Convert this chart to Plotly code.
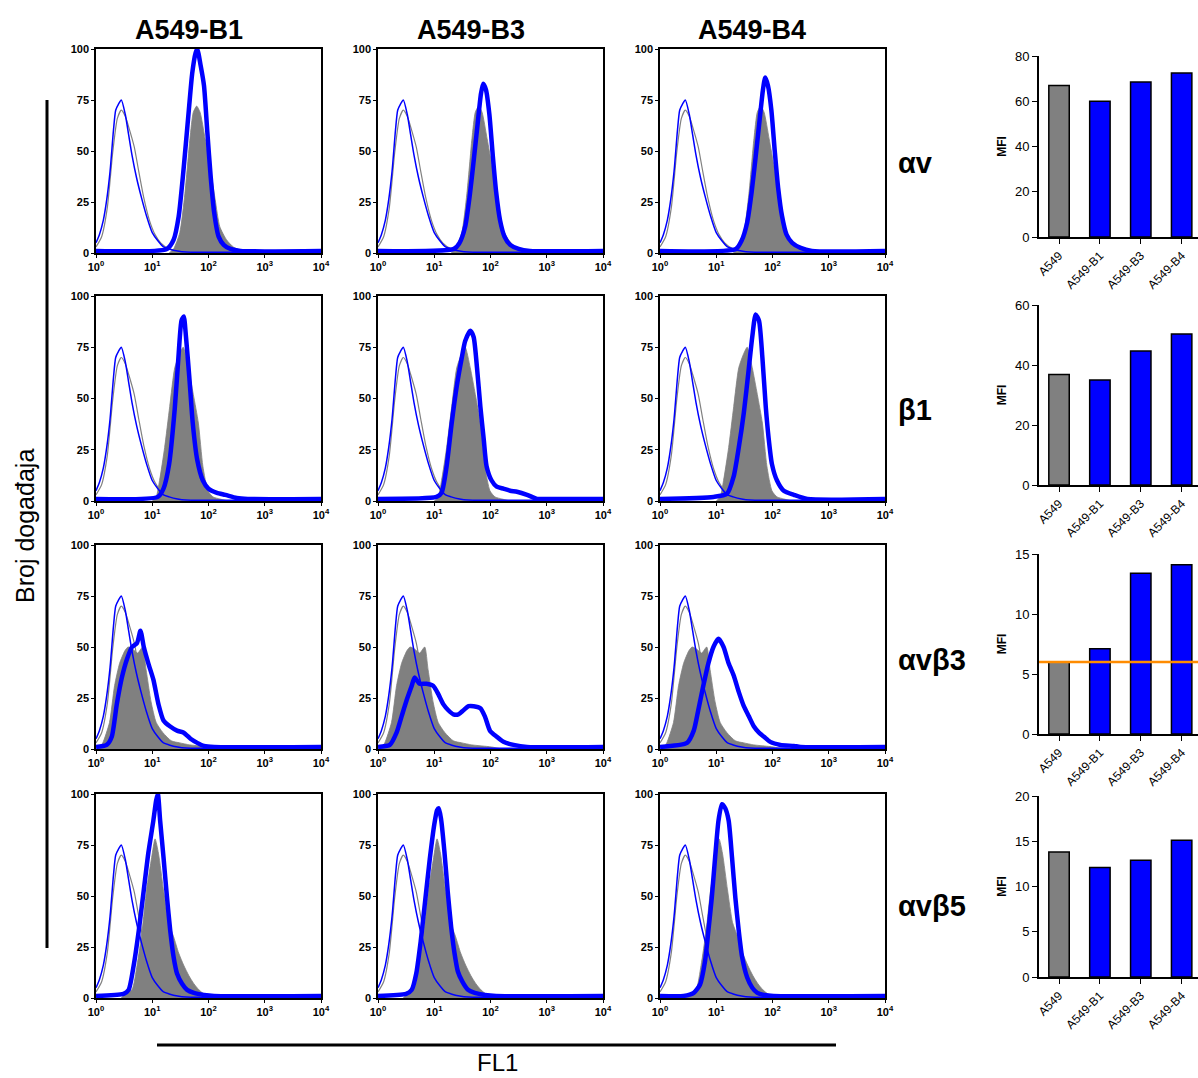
import plotly.graph_objects as go

W, H = 1198, 1078
FONT = "Liberation Sans, Arial, sans-serif"

# ---------------- data ----------------
col_titles = ["A549-B1", "A549-B3", "A549-B4"]
row_labels = ["αv", "β1", "αvβ3", "αvβ5"]

hist_tickvals = [1, 10, 100, 1000, 10000]
hist_ticktext = ["10<sup>0</sup>", "10<sup>1</sup>", "10<sup>2</sup>", "10<sup>3</sup>", "10<sup>4</sup>"]
hist_yticks = [0, 25, 50, 75, 100]

# isotype controls (log10 FL1 position, % of max)
ctrl_blue_d = [0.0, 0.06, 0.13, 0.19, 0.25, 0.31, 0.35, 0.40, 0.45, 0.52, 0.58, 0.64, 0.72, 0.80, 0.90, 1.00, 1.10, 1.20, 1.30, 1.45, 1.60, 4.0]
ctrl_blue_y = [5, 9, 16, 26, 40, 60, 70, 73, 75, 68, 58, 48, 37, 28, 18, 10, 6, 3, 2, 1, 0.5, 0.5]
ctrl_gray_d = [0.0, 0.10, 0.20, 0.30, 0.38, 0.45, 0.52, 0.60, 0.68, 0.76, 0.85, 0.95, 1.05, 1.15, 1.30, 1.50, 1.70]
ctrl_gray_y = [3, 8, 22, 50, 66, 70, 67, 60, 52, 40, 27, 16, 9, 5, 2, 1, 0.5]

# parental A549 (gray filled) per marker row
gray_d = [
    [1.30, 1.38, 1.49, 1.58, 1.67, 1.73, 1.79, 1.85, 1.94, 2.03, 2.12, 2.20, 2.32, 2.44, 2.59, 2.75],
    [1.00, 1.07, 1.13, 1.22, 1.31, 1.40, 1.49, 1.55, 1.64, 1.73, 1.82, 1.90, 1.99, 2.08, 2.20, 2.35],
    [0.05, 0.12, 0.24, 0.33, 0.42, 0.51, 0.57, 0.65, 0.74, 0.83, 0.89, 0.98, 1.07, 1.19, 1.34, 1.49, 1.67, 1.85, 2.02, 2.20],
    [0.45, 0.52, 0.64, 0.73, 0.82, 0.90, 0.99, 1.05, 1.11, 1.20, 1.29, 1.38, 1.47, 1.56, 1.65, 1.74, 1.83, 1.92, 2.04, 2.20],
]
gray_y = [
    [0, 2, 10, 29, 56, 69, 72, 69, 56, 42, 26, 13, 6.5, 3, 1, 0],
    [0, 2, 10, 26, 46, 65, 72, 75, 65, 52, 38, 17, 5, 2, 1, 0],
    [0, 3, 13, 31, 42, 48, 50, 49, 47, 50, 39, 23, 13, 8, 4, 3, 2, 1.5, 1, 0],
    [0, 2, 4, 16, 33, 53, 69, 78, 71, 53, 37, 30, 22, 16, 11, 7, 4, 2, 1, 0],
]

# transduced clones (thick blue), [row][col]
blue_d = [
    [
        [0, 1.26, 1.38, 1.47, 1.56, 1.65, 1.71, 1.77, 1.80, 1.86, 1.92, 1.98, 2.04, 2.10, 2.18, 2.27, 2.39, 2.57, 4.0],
        [0, 1.35, 1.45, 1.55, 1.63, 1.70, 1.77, 1.83, 1.87, 1.92, 1.98, 2.04, 2.10, 2.17, 2.25, 2.35, 2.50, 2.70, 4.0],
        [0, 1.35, 1.45, 1.55, 1.63, 1.70, 1.77, 1.83, 1.87, 1.92, 1.98, 2.04, 2.10, 2.17, 2.25, 2.35, 2.50, 2.70, 4.0],
    ],
    [
        [0, 1.10, 1.20, 1.30, 1.40, 1.47, 1.52, 1.56, 1.60, 1.66, 1.72, 1.80, 1.90, 2.00, 2.15, 2.30, 2.50, 2.70, 4.0],
        [0, 1.04, 1.13, 1.22, 1.31, 1.40, 1.49, 1.55, 1.64, 1.70, 1.76, 1.82, 1.88, 1.93, 2.02, 2.11, 2.23, 2.35, 2.47, 2.65, 2.83, 2.95, 4.0],
        [0, 0.95, 1.19, 1.31, 1.40, 1.49, 1.58, 1.64, 1.70, 1.76, 1.82, 1.88, 1.93, 1.99, 2.08, 2.20, 2.38, 2.62, 4.0],
    ],
    [
        [0, 0.19, 0.28, 0.37, 0.46, 0.55, 0.64, 0.73, 0.79, 0.85, 0.93, 1.02, 1.11, 1.20, 1.32, 1.44, 1.56, 1.68, 1.80, 1.92, 2.10, 4.0],
        [0, 0.21, 0.33, 0.42, 0.51, 0.60, 0.65, 0.74, 0.86, 0.98, 1.07, 1.16, 1.25, 1.34, 1.43, 1.52, 1.61, 1.70, 1.82, 1.90, 1.99, 2.11, 2.23, 2.41, 2.65, 4.0],
        [0, 0.48, 0.60, 0.68, 0.77, 0.86, 0.95, 1.04, 1.13, 1.22, 1.31, 1.40, 1.49, 1.58, 1.67, 1.76, 1.85, 1.96, 2.14, 2.38, 2.50, 4.0],
    ],
    [
        [0, 0.49, 0.58, 0.67, 0.76, 0.85, 0.93, 1.02, 1.07, 1.10, 1.14, 1.20, 1.26, 1.32, 1.38, 1.44, 1.53, 1.62, 1.74, 1.92, 2.10, 4.0],
        [0, 0.50, 0.60, 0.68, 0.76, 0.84, 0.92, 1.00, 1.05, 1.08, 1.12, 1.18, 1.24, 1.30, 1.36, 1.42, 1.50, 1.60, 1.72, 1.90, 2.10, 4.0],
        [0, 0.42, 0.60, 0.71, 0.80, 0.86, 0.92, 0.98, 1.04, 1.10, 1.16, 1.22, 1.28, 1.34, 1.40, 1.46, 1.55, 1.64, 1.73, 1.85, 2.02, 4.0],
    ],
]
blue_y = [
    [
        [1, 2, 6.5, 18, 42, 70, 88, 98, 100, 92, 82, 59, 37, 20, 8, 4, 2, 1, 1],
        [1, 2, 5, 13, 28, 45, 63, 78, 83, 80, 68, 48, 30, 16, 8, 4, 2, 1, 1],
        [1, 2, 6, 15, 30, 47, 65, 80, 86, 82, 70, 50, 32, 18, 9, 5, 2.5, 1, 1],
    ],
    [
        [1, 2, 6, 18, 45, 72, 88, 90, 80, 60, 38, 20, 10, 6, 4, 3, 1.5, 1, 1],
        [1, 2, 4, 17, 38, 56, 70, 78, 83, 80, 65, 46, 30, 17, 10, 7, 6, 5, 4.5, 3, 1, 1, 1],
        [1, 2, 3.5, 12, 26, 43, 65, 80, 91, 88, 70, 46, 31, 18, 10, 5, 3, 1, 1],
    ],
    [
        [1, 2, 6, 22, 35, 44, 50, 52, 58, 50, 42, 34, 22, 14, 11, 9, 8, 5, 3, 1.5, 1, 1],
        [1, 2, 8, 16, 24, 31, 35, 32, 32, 31, 27, 22, 19, 17, 17, 19, 21, 21, 20, 16, 9, 6, 3.5, 2, 1, 1],
        [1, 3, 9, 19, 31, 42, 50, 54, 50, 42, 36, 28, 21, 16, 11, 8, 6, 3.5, 2, 1.5, 1, 1],
    ],
    [
        [1, 2, 4, 16, 33, 53, 71, 87, 97, 100, 87, 69, 50, 33, 20, 12, 7, 4, 2.5, 1.5, 1, 1],
        [1, 2, 4, 12, 28, 48, 68, 85, 92, 93, 88, 72, 52, 35, 22, 13, 8, 4, 2.5, 1.5, 1, 1],
        [1, 1, 2.5, 6.5, 18, 33, 49, 69, 87, 95, 93, 87, 69, 49, 33, 20, 10, 5, 2.5, 1.5, 1, 1],
    ],
]

bar_categories = ["A549", "A549-B1", "A549-B3", "A549-B4"]
mfi_av = [67.0, 60.0, 68.5, 72.5]
mfi_b1 = [36.8, 35.0, 44.7, 50.3]
mfi_avb3 = [6.0, 7.1, 13.4, 14.1]
mfi_avb5 = [13.8, 12.1, 12.9, 15.1]
mfi_rows = [mfi_av, mfi_b1, mfi_avb3, mfi_avb5]
avb3_threshold = 6.0
bar_ymax = [80, 60, 15, 20]
bar_dtick = [20, 20, 5, 5]

# ---------------- layout geometry (pixels) ----------------
col_px = [(96, 321), (378, 603), (660, 885)]
row_px = [(49, 253), (296, 501), (545, 749), (794, 998)]
bar_x_px = (1039, 1198)
bar_row_px = [(56, 237), (305, 485), (554, 734), (796, 977)]


def dx(a, b):
    return [a / W, b / W]


def dy(top, bottom):
    return [1 - bottom / H, 1 - top / H]


BLUE = "#0000ff"
GRAY = "#808080"

fig = go.Figure()
layout = {}

for r in range(4):
    for c in range(3):
        k = r * 3 + c + 1
        xa, ya = f"x{k}", f"y{k}"
        fig.add_trace(go.Scatter(
            x=[10 ** d for d in gray_d[r]], y=gray_y[r], xaxis=xa, yaxis=ya,
            mode="lines", line=dict(color=GRAY, width=0.8, shape="spline", smoothing=0.6),
            fill="tozeroy", fillcolor=GRAY, showlegend=False, hoverinfo="skip"))
        fig.add_trace(go.Scatter(
            x=[10 ** d for d in ctrl_gray_d], y=ctrl_gray_y, xaxis=xa, yaxis=ya,
            mode="lines", line=dict(color=GRAY, width=1.2, shape="spline", smoothing=0.6),
            showlegend=False, hoverinfo="skip"))
        fig.add_trace(go.Scatter(
            x=[10 ** d for d in ctrl_blue_d], y=ctrl_blue_y, xaxis=xa, yaxis=ya,
            mode="lines", line=dict(color=BLUE, width=1.5, shape="spline", smoothing=0.6),
            showlegend=False, hoverinfo="skip"))
        fig.add_trace(go.Scatter(
            x=[10 ** d for d in blue_d[r][c]], y=blue_y[r][c], xaxis=xa, yaxis=ya,
            mode="lines", line=dict(color=BLUE, width=4.5, shape="spline", smoothing=0.6),
            showlegend=False, hoverinfo="skip"))

        sfx = "" if k == 1 else str(k)
        layout[f"xaxis{sfx}"] = dict(
            domain=dx(*col_px[c]), anchor=ya, type="log", range=[0, 4], automargin=False,
            tickvals=hist_tickvals, ticktext=hist_ticktext, ticks="outside", ticklen=3,
            tickcolor="black", showline=True, linecolor="black", linewidth=1.5, mirror=True,
            showgrid=False, zeroline=False,
            tickfont=dict(family=FONT, size=11, color="black", weight="bold"))
        layout[f"yaxis{sfx}"] = dict(
            domain=dy(*row_px[r]), anchor=xa, range=[0, 100], automargin=False,
            tickvals=hist_yticks, ticks="outside", ticklen=3, tickcolor="black",
            showline=True, linecolor="black", linewidth=1.5, mirror=True,
            showgrid=False, zeroline=False,
            tickfont=dict(family=FONT, size=11, color="black", weight="bold"))

shapes = []
for r in range(4):
    k = 13 + r
    xa, ya = f"x{k}", f"y{k}"
    fig.add_trace(go.Bar(
        x=bar_categories, y=mfi_rows[r], xaxis=xa, yaxis=ya, width=0.5,
        marker=dict(color=[GRAY, BLUE, BLUE, BLUE], line=dict(color="black", width=1.5)),
        showlegend=False, hoverinfo="skip"))
    layout[f"xaxis{k}"] = dict(
        domain=dx(*bar_x_px), anchor=ya, type="category", range=[-0.49, 3.4], automargin=False,
        tickangle=-45, ticks="outside", ticklen=5, tickcolor="black",
        showline=True, linecolor="black", linewidth=2, showgrid=False, zeroline=False,
        tickfont=dict(family=FONT, size=12, color="black"))
    layout[f"yaxis{k}"] = dict(
        domain=dy(*bar_row_px[r]), anchor=xa, range=[0, bar_ymax[r]], dtick=bar_dtick[r],
        automargin=False,
        ticks="outside", ticklen=5, tickcolor="black", showline=True, linecolor="black",
        linewidth=2, showgrid=False, zeroline=False,
        tickfont=dict(family=FONT, size=13, color="black"),
        title=dict(text="<b>MFI</b>", font=dict(family=FONT, size=12, color="black"), standoff=6))

shapes.append(dict(type="line", xref="x15 domain", yref="y15", x0=0, x1=1,
                   y0=avb3_threshold, y1=avb3_threshold, line=dict(color="#ff8c00", width=2.5),
                   layer="above"))
shapes.append(dict(type="line", xref="paper", yref="paper", x0=47 / W, x1=47 / W,
                   y0=1 - 948 / H, y1=1 - 100 / H, line=dict(color="black", width=3)))
shapes.append(dict(type="line", xref="paper", yref="paper", x0=157 / W, x1=836 / W,
                   y0=1 - 1045 / H, y1=1 - 1045 / H, line=dict(color="black", width=3)))

annotations = []
title_cx = [189, 471, 752]
for c in range(3):
    annotations.append(dict(text=f"<b>{col_titles[c]}</b>", xref="paper", yref="paper",
                            x=title_cx[c] / W, y=1 - 30 / H, showarrow=False,
                            font=dict(family=FONT, size=27, color="black"),
                            xanchor="center", yanchor="middle"))
row_cy = [163, 410, 660, 906]
for r in range(4):
    annotations.append(dict(text=f"<b>{row_labels[r]}</b>", xref="paper", yref="paper",
                            x=896 / W, y=1 - row_cy[r] / H, showarrow=False,
                            font=dict(family=FONT, size=29, color="black"),
                            xanchor="left", yanchor="middle"))
annotations.append(dict(text="Broj događaja", xref="paper", yref="paper", x=25 / W,
                        y=1 - 526 / H, showarrow=False, textangle=-90,
                        font=dict(family=FONT, size=25, color="black"),
                        xanchor="center", yanchor="middle"))
annotations.append(dict(text="FL1", xref="paper", yref="paper", x=497 / W,
                        y=0, showarrow=False,
                        font=dict(family=FONT, size=24, color="black"),
                        xanchor="center", yanchor="bottom"))

fig.update_layout(
    width=W, height=H, margin=dict(l=0, r=0, t=0, b=0, autoexpand=False),
    paper_bgcolor="white", plot_bgcolor="white",
    font=dict(family=FONT, color="black"),
    shapes=shapes, annotations=annotations, bargap=0.5,
    **layout)

fig.write_html(
    "out.html",
    config={"displayModeBar": False},
    post_script="document.body.style.margin='0';document.body.style.overflow='hidden';")
